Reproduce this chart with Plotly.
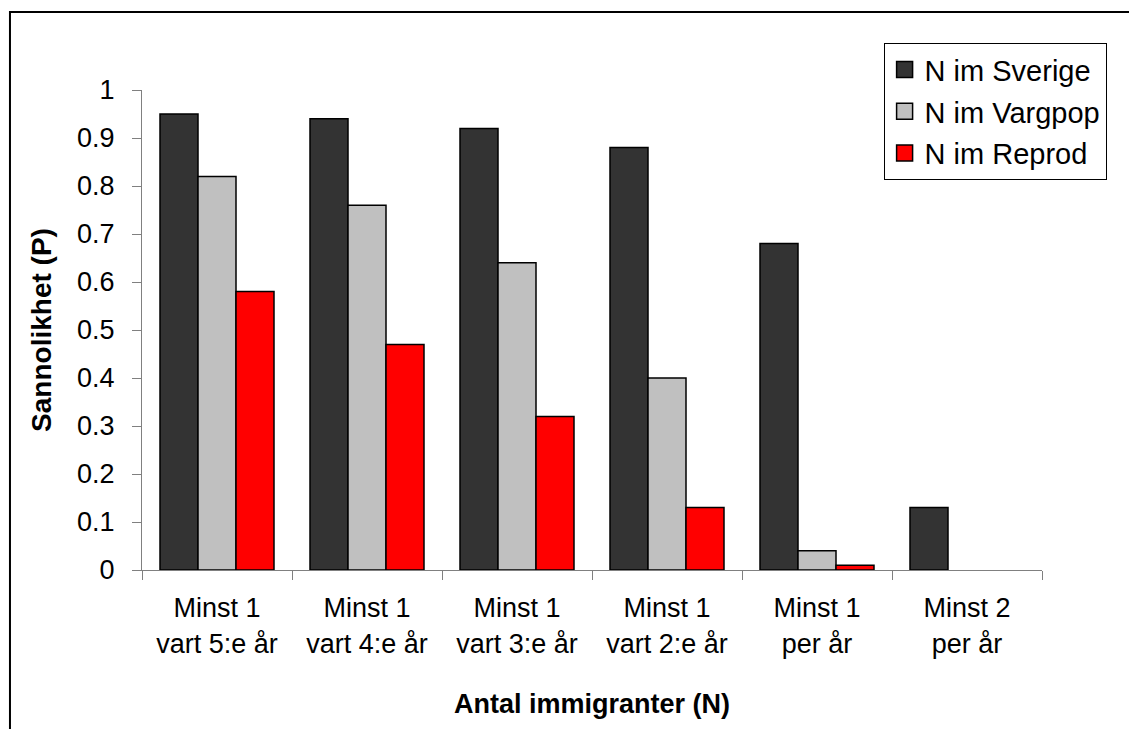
import plotly.graph_objects as go

categories = [
    "Minst 1<br>vart 5:e år",
    "Minst 1<br>vart 4:e år",
    "Minst 1<br>vart 3:e år",
    "Minst 1<br>vart 2:e år",
    "Minst 1<br>per år",
    "Minst 2<br>per år",
]
sverige = [0.95, 0.94, 0.92, 0.88, 0.68, 0.13]
vargpop = [0.82, 0.76, 0.64, 0.40, 0.04, 0.0]
reprod = [0.58, 0.47, 0.32, 0.13, 0.01, 0.0]

series = [
    ("N im Sverige", sverige, "#333333"),
    ("N im Vargpop", vargpop, "#C0C0C0"),
    ("N im Reprod", reprod, "#FF0000"),
]

fig = go.Figure()
for name, vals, color in series:
    # zero-height bars get no outline so they leave no stroke on the axis
    widths = [1.5 if v > 0 else 0 for v in vals]
    fig.add_trace(go.Bar(
        name=name, x=categories, y=vals, legendgroup=name, showlegend=False,
        marker=dict(color=color, line=dict(color="black", width=widths)),
    ))
    # larger square swatch for the legend entry
    fig.add_trace(go.Scatter(
        name=name, x=[None], y=[None], mode="markers", legendgroup=name,
        marker=dict(symbol="square", size=16, color=color,
                    line=dict(color="black", width=1.5)),
    ))

font = "Arial, Liberation Sans, sans-serif"
fig.update_layout(
    width=1129, height=729,
    margin=dict(l=142, r=87, t=90, b=159),
    paper_bgcolor="white", plot_bgcolor="white",
    barmode="group", bargap=0.24, bargroupgap=0,
    font=dict(family=font, size=27, color="black"),
    showlegend=True,
    legend=dict(
        x=0.824, y=1.0975, xanchor="left", yanchor="top",
        bordercolor="black", borderwidth=1, bgcolor="white",
        font=dict(size=29), itemsizing="trace", itemwidth=30,
        traceorder="grouped", tracegroupgap=1,
    ),
    xaxis=dict(
        showline=True, linecolor="#808080", linewidth=1,
        ticks="outside", ticklen=9, tickcolor="#808080",
        tickson="boundaries", showgrid=False,
        tickfont=dict(size=27), ticklabelstandoff=14,
        title=dict(text="<b>Antal immigranter (N)</b>", font=dict(size=27), standoff=36),
    ),
    yaxis=dict(
        range=[0, 1], dtick=0.1, tickformat="~g",
        showline=True, linecolor="#808080", linewidth=1,
        ticks="outside", ticklen=9, tickcolor="#808080",
        showgrid=False, zeroline=False,
        tickfont=dict(size=27), ticklabelstandoff=12,
        title=dict(text="<b>Sannolikhet (P)</b>", font=dict(size=28), standoff=17),
    ),
    shapes=[dict(
        type="rect", xref="paper", yref="paper",
        x0=-0.1467, x1=1.3, y0=-0.6, y1=1.1625,
        line=dict(color="black", width=2), fillcolor="rgba(0,0,0,0)",
        layer="below",
    )],
)

fig.write_html("out.html")
